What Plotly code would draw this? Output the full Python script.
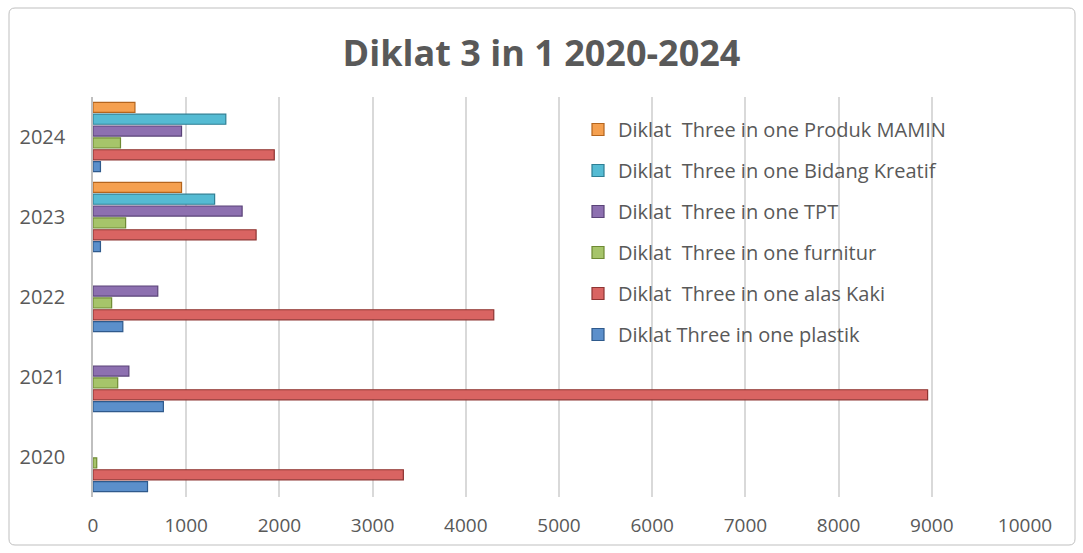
import plotly.graph_objects as go

years = ["2020", "2021", "2022", "2023", "2024"]
series_names = [
    "Diklat Three in one plastik",
    "Diklat  Three in one alas Kaki",
    "Diklat  Three in one furnitur",
    "Diklat  Three in one TPT",
    "Diklat  Three in one Bidang Kreatif",
    "Diklat  Three in one Produk MAMIN",
]
plastik = [585, 755, 320, 80, 80]
alas_kaki = [3330, 8955, 4300, 1750, 1945]
furnitur = [40, 265, 200, 350, 295]
tpt = [None, 385, 695, 1600, 950]
kreatif = [None, None, None, 1305, 1425]
mamin = [None, None, None, 950, 450]

values = [plastik, alas_kaki, furnitur, tpt, kreatif, mamin]
fills = ["#5B8FCB", "#D96462", "#A6C46A", "#8D70B0", "#55BBD3", "#F5A04F"]
edges = ["#2F5A8C", "#8E3432", "#6E8A33", "#5A4378", "#2E7F94", "#B4651E"]

FONT = "Open Sans"
GRAY = "#595959"

fig = go.Figure()
n = len(series_names)
for i, (name, vals) in enumerate(zip(series_names, values)):
    fig.add_trace(go.Bar(
        y=years, x=vals, name=name, orientation="h",
        marker=dict(color=fills[i], line=dict(color=edges[i], width=1.2)),
        legendgroup=f"g{i}", legendrank=n - i,
    ))

fig.update_layout(
    width=1083, height=553,
    paper_bgcolor="white", plot_bgcolor="white",
    margin=dict(l=93, r=58, t=97, b=56),
    barmode="group", bargap=0.11, bargroupgap=0.15,
    title=dict(text="<b>Diklat 3 in 1 2020-2024</b>", x=0.5, xanchor="center",
               y=1 - 53 / 553, yanchor="middle", yref="container",
               font=dict(family=FONT, size=36, color=GRAY)),
    legend=dict(x=(578 - 93) / 932, y=(497 - 110) / 400, xanchor="left", yanchor="top",
                bgcolor="rgba(0,0,0,0)", traceorder="grouped",
                tracegroupgap=12,
                font=dict(family=FONT, size=20, color=GRAY),
                itemwidth=30),
    font=dict(family=FONT, color=GRAY),
    showlegend=True,
)
fig.update_xaxes(range=[0, 10000], dtick=1000, tickformat="d", showgrid=True,
                 gridcolor="#D9D9D9", gridwidth=1.5, zeroline=False, showline=False,
                 tickfont=dict(family=FONT, size=19, color=GRAY),
                 ticklabelstandoff=15, fixedrange=True)
fig.update_yaxes(showgrid=False, showline=True, linecolor="#BFBFBF", linewidth=1.5,
                 tickfont=dict(family=FONT, size=20, color=GRAY),
                 ticklabelstandoff=22, categoryorder="array", categoryarray=years)

# rounded outer frame
x0, x1 = (9 - 93) / 932, (1075 - 93) / 932
y1, y0 = (497 - 8) / 400, (497 - 545) / 400
rx, ry = 6 / 932, 6 / 400
path = (f"M {x0+rx},{y0} L {x1-rx},{y0} Q {x1},{y0} {x1},{y0+ry} "
        f"L {x1},{y1-ry} Q {x1},{y1} {x1-rx},{y1} L {x0+rx},{y1} "
        f"Q {x0},{y1} {x0},{y1-ry} L {x0},{y0+ry} Q {x0},{y0} {x0+rx},{y0} Z")
fig.add_shape(type="path", path=path, xref="paper", yref="paper",
              line=dict(color="#BFBFBF", width=1), layer="below")

fig.write_html("out.html", config={"displayModeBar": False},
               post_script="document.body.style.margin='0';document.body.style.padding='0';")
